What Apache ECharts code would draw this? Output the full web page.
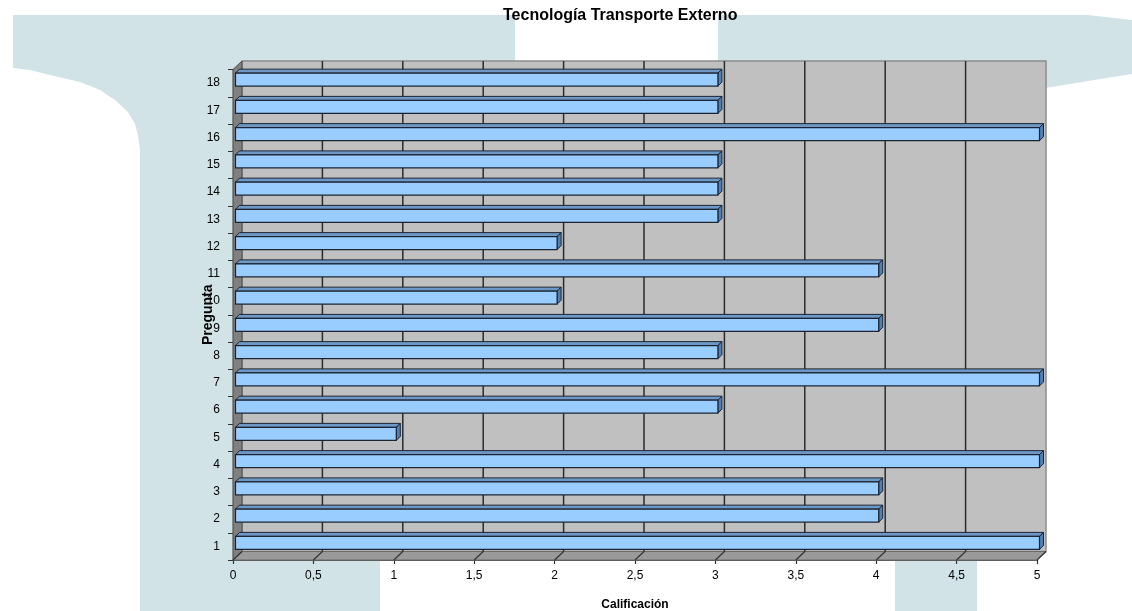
<!DOCTYPE html>
<html>
<head>
<meta charset="utf-8">
<title>Tecnología Transporte Externo</title>
<script src="https://cdn.jsdelivr.net/npm/echarts@6/dist/echarts.min.js"></script>
<style>
  html, body { margin: 0; padding: 0; background: #ffffff; }
  #chart { width: 1132px; height: 611px; }
</style>
</head>
<body>
<div id="chart"></div>
<script>
// Question numbers (category axis, bottom to top)
const categories = ['1', '2', '3', '4', '5', '6', '7', '8', '9', '10', '11', '12', '13', '14', '15', '16', '17', '18'];
// Score given to each question
const scores = [5, 4, 4, 5, 1, 3, 5, 3, 4, 2, 4, 2, 3, 3, 3, 5, 3, 3];
// Value-axis ticks (Calificación)
const xTicks = [0, 0.5, 1, 1.5, 2, 2.5, 3, 3.5, 4, 4.5, 5];

const FONT = 'Liberation Sans, Arial, sans-serif';
// Oblique depth of the 3D box walls and of the bars
const WALL_DX = 9, WALL_DY = -8.5;
const BAR_SHIFT_X = 2.5, BAR_SHIFT_Y = -3.5;
const BAR_H = 13, BAR_DX = 4, BAR_DY = -4;

const chart = echarts.init(document.getElementById('chart'), null, { renderer: 'canvas' });

// Back wall, left wall, floor and the gridlines painted on the back wall
function renderWalls(params, api) {
  const cs = params.coordSys;
  const x0 = cs.x, y0 = cs.y, w = cs.width, h = cs.height;
  const children = [];
  children.push({
    type: 'rect',
    shape: { x: x0 + WALL_DX, y: y0 + WALL_DY, width: w, height: h },
    style: { fill: '#c0c0c0', stroke: '#8c8c8c', lineWidth: 1.5 }
  });
  children.push({
    type: 'polygon',
    shape: { points: [[x0, y0], [x0 + WALL_DX, y0 + WALL_DY], [x0 + WALL_DX, y0 + h + WALL_DY], [x0, y0 + h]] },
    style: { fill: '#808080', stroke: '#4a4a4a', lineWidth: 1 }
  });
  children.push({
    type: 'polygon',
    shape: { points: [[x0, y0 + h], [x0 + WALL_DX, y0 + h + WALL_DY], [x0 + w + WALL_DX, y0 + h + WALL_DY], [x0 + w, y0 + h]] },
    style: { fill: '#9a9a9a', stroke: '#6a6a6a', lineWidth: 1 }
  });
  xTicks.forEach(function (v) {
    const px = api.coord([v, 0])[0];
    if (v > 0 && v < xTicks[xTicks.length - 1]) {
      children.push({
        type: 'line',
        shape: { x1: px + WALL_DX, y1: y0 + WALL_DY, x2: px + WALL_DX, y2: y0 + h + WALL_DY },
        style: { stroke: '#2b2b2b', lineWidth: 1.5 }
      });
    }
    children.push({
      type: 'line',
      shape: { x1: px + WALL_DX, y1: y0 + h + WALL_DY, x2: px, y2: y0 + h },
      style: { stroke: '#333333', lineWidth: 1.2 }
    });
  });
  return { type: 'group', children: children };
}

// One 3D bar: front face, top face and end face
function renderBar(params, api) {
  const v = api.value(0);
  const idx = api.value(1);
  const p0 = api.coord([0, idx]);
  const p1 = api.coord([v, idx]);
  const xl = p0[0] + BAR_SHIFT_X;
  const xr = p1[0] + BAR_SHIFT_X;
  const yt = p0[1] + BAR_SHIFT_Y - BAR_H / 2;
  const yb = yt + BAR_H;
  const stroke = '#1c2433';
  return {
    type: 'group',
    children: [
      {
        type: 'polygon',
        shape: { points: [[xl, yt], [xl + BAR_DX, yt + BAR_DY], [xr + BAR_DX, yt + BAR_DY], [xr, yt]] },
        style: { fill: '#6d98c6', stroke: stroke, lineWidth: 1 }
      },
      {
        type: 'polygon',
        shape: { points: [[xr, yt], [xr + BAR_DX, yt + BAR_DY], [xr + BAR_DX, yb + BAR_DY], [xr, yb]] },
        style: { fill: '#5580ad', stroke: stroke, lineWidth: 1 }
      },
      {
        type: 'rect',
        shape: { x: xl, y: yt, width: xr - xl, height: BAR_H },
        style: { fill: '#99ccff', stroke: stroke, lineWidth: 1.2 }
      }
    ]
  };
}

const WASH = '#d1e3e7';

chart.setOption({
  backgroundColor: '#ffffff',
  animation: false,
  title: {
    text: 'Tecnología Transporte Externo',
    left: 503,
    top: 8,
    padding: 0,
    textStyle: { fontFamily: FONT, fontSize: 16, fontWeight: 'bold', color: '#000000' }
  },
  graphic: {
    elements: [
      {
        type: 'polygon',
        z: -100,
        shape: {
          points: [[13, 15], [515, 15], [515, 70], [380, 70], [380, 611], [140, 611], [140, 150],
            [138, 135], [135, 124], [128, 112], [115, 100], [100, 90], [80, 82], [50, 75], [30, 70], [13, 68]]
        },
        style: { fill: WASH }
      },
      {
        type: 'polygon',
        z: -100,
        shape: {
          points: [[718, 15], [1088, 15], [1132, 20], [1132, 74], [1100, 79], [1070, 84], [1045, 88], [718, 88]]
        },
        style: { fill: WASH }
      },
      {
        type: 'rect',
        z: -100,
        shape: { x: 895, y: 300, width: 82, height: 311 },
        style: { fill: WASH }
      }
    ]
  },
  grid: {
    left: 233,
    top: 69.5,
    width: 804,
    height: 490.5,
    containLabel: false,
    outerBoundsMode: 'none'
  },
  xAxis: {
    type: 'value',
    min: xTicks[0],
    max: xTicks[xTicks.length - 1],
    interval: 0.5,
    name: 'Calificación',
    nameLocation: 'middle',
    nameGap: 39,
    nameMoveOverlap: false,
    nameTextStyle: { fontFamily: FONT, fontSize: 12, fontWeight: 'bold', color: '#000000' },
    axisLine: { show: true, lineStyle: { color: '#555555', width: 1 } },
    axisTick: { show: true, length: 4, lineStyle: { color: '#333333', width: 1.2 } },
    splitLine: { show: false },
    axisLabel: {
      margin: 10,
      fontFamily: FONT,
      fontSize: 12,
      color: '#000000',
      formatter: function (v) { return String(v).replace('.', ','); }
    }
  },
  yAxis: {
    type: 'category',
    data: categories,
    name: 'Pregunta',
    nameLocation: 'middle',
    nameGap: 18,
    nameRotate: 90,
    nameMoveOverlap: false,
    nameTextStyle: { fontFamily: FONT, fontSize: 14, fontWeight: 'bold', color: '#000000' },
    axisLine: { show: true, lineStyle: { color: '#333333', width: 1.2 } },
    axisTick: { show: true, length: 5, alignWithLabel: false, lineStyle: { color: '#333333' } },
    splitLine: { show: false },
    axisLabel: { margin: 13, fontFamily: FONT, fontSize: 12, color: '#000000' }
  },
  series: [
    {
      type: 'custom',
      name: 'walls',
      z: 1,
      clip: false,
      silent: true,
      renderItem: renderWalls,
      data: [[0, 0]]
    },
    {
      type: 'custom',
      name: 'Calificación',
      z: 3,
      clip: false,
      renderItem: renderBar,
      encode: { x: 0, y: 1 },
      data: scores.map(function (s, i) { return [s, i]; })
    }
  ]
});
</script>
</body>
</html>
